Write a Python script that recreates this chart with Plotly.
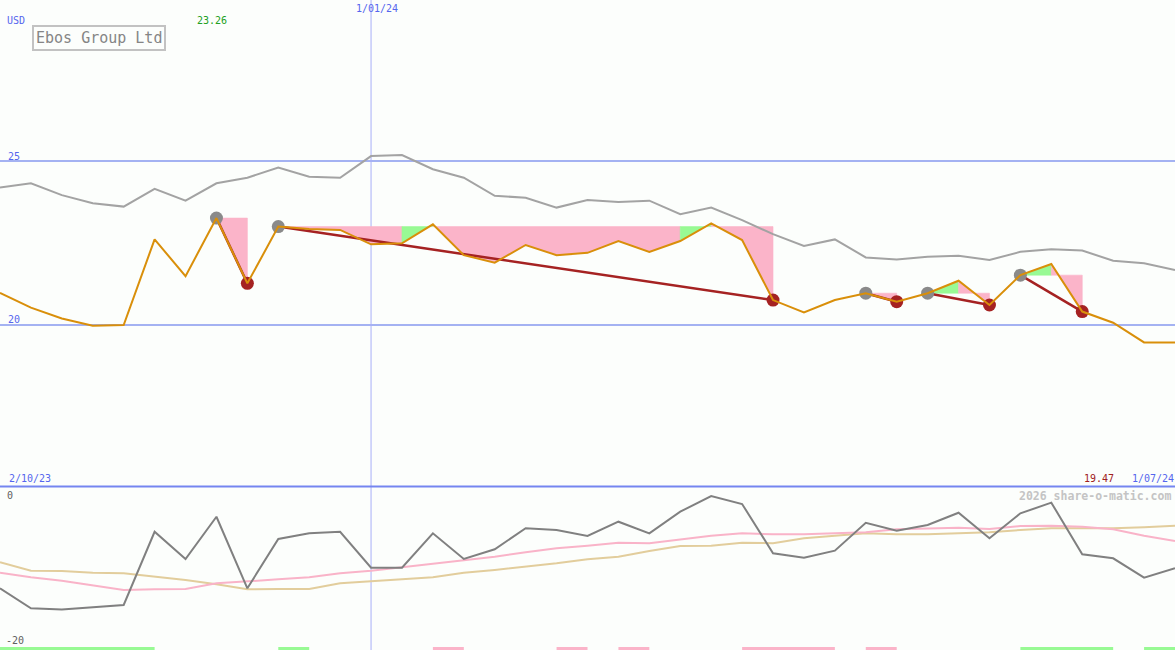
import plotly.graph_objects as go

# ---------------- data ----------------
idx = list(range(39))

price = [20.98, 20.53, 20.20, 19.98, 20.00, 22.61, 21.49, 23.26, 21.27, 23.00,
         22.93, 22.90, 22.46, 22.49, 23.07, 22.13, 21.90, 22.44, 22.13, 22.20,
         22.56, 22.23, 22.56, 23.10, 22.59, 20.76, 20.38, 20.76, 20.97, 20.71,
         20.97, 21.35, 20.61, 21.52, 21.86, 20.41, 20.07, 19.47, 19.47]

upper_band = [24.19, 24.32, 23.96, 23.71, 23.61, 24.15, 23.79, 24.32, 24.49, 24.80,
              24.52, 24.49, 25.15, 25.18, 24.75, 24.49, 23.94, 23.88, 23.58, 23.81,
              23.75, 23.79, 23.38, 23.58, 23.20, 22.77, 22.41, 22.61, 22.06, 22.00,
              22.08, 22.11, 21.98, 22.23, 22.31, 22.27, 21.96, 21.88, 21.68]

# peak -> trough drawdown episodes (indices)
peaks = [7, 9, 28, 30, 33]
troughs = [8, 25, 29, 32, 35]

osc_main = [-12.57, -15.10, -15.25, -15.00, -14.68, -5.41, -8.86, -3.51, -12.57, -6.33,
            -5.61, -5.41, -9.96, -9.96, -5.61, -8.86, -7.63, -4.97, -5.19, -5.95,
            -4.14, -5.61, -2.87, -0.89, -1.90, -8.14, -8.70, -7.81, -4.27, -5.28,
            -4.56, -3.00, -6.24, -3.08, -1.73, -8.27, -8.77, -11.23, -10.04]

osc_pink = [-10.59, -11.18, -11.61, -12.15, -12.78, -12.70, -12.66, -11.94, -11.73, -11.43,
            -11.18, -10.67, -10.34, -9.91, -9.49, -9.08, -8.57, -8.01, -7.51, -7.18,
            -6.80, -6.87, -6.37, -5.91, -5.61, -5.73, -5.73, -5.61, -5.48, -5.10,
            -4.97, -4.90, -5.06, -4.68, -4.65, -4.77, -5.10, -5.91, -6.58]

osc_tan = [-9.28, -10.34, -10.38, -10.59, -10.67, -11.10, -11.52, -12.06, -12.70, -12.66,
           -12.66, -11.94, -11.73, -11.43, -11.18, -10.59, -10.25, -9.84, -9.41, -8.90,
           -8.57, -7.85, -7.22, -7.18, -6.80, -6.87, -6.24, -5.91, -5.61, -5.73,
           -5.73, -5.61, -5.48, -5.19, -4.97, -4.97, -4.97, -4.85, -4.65]

# signal bars at the bottom: (start index, end index, kind)
bar_start = [0, 9, 14, 18, 20, 24, 28, 33, 37]
bar_end = [5, 10, 15, 19, 21, 27, 29, 36, 38]
bar_kind = ["up", "up", "down", "down", "down", "down", "down", "up", "up"]

title_text = "Ebos Group Ltd"
currency = "USD"
high_label = "23.26"
last_label = "19.47"
start_label = "2/10/23"
mid_label = "1/01/24"
end_label = "1/07/24"
mid_index = 12
grid_levels = [25, 20]

# ---------------- styles ----------------
BG = "#FCFEFC"
ORANGE = "#D98F0A"
GREY_LINE = "#A3A3A3"
PINK = "#FBB4C9"
GREEN = "#98FA94"
DARKRED = "#A52222"
MARKER_GREY = "#8A8A8A"
GRID = "#A4B2F2"
BLUE_TXT = "#5566EE"
MONO = "DejaVu Sans Mono"

fig = go.Figure()

# drawdown fills: one polygon per run of same-coloured segments
for pk, tr in zip(peaks, troughs):
    level = price[pk]
    cols = [GREEN if price[i + 1] > level else PINK for i in range(pk, tr)]
    runs = []
    s = pk
    for k in range(1, len(cols) + 1):
        if k == len(cols) or cols[k] != cols[k - 1]:
            runs.append((s, pk + k, cols[k - 1]))
            s = pk + k
    for a, b, col in runs:
        xs = list(range(a, b + 1))
        px_ = xs + xs[::-1] + [a]
        py_ = [level] * len(xs) + [price[i] for i in xs[::-1]] + [level]
        fig.add_trace(go.Scatter(
            x=px_, y=py_, mode="lines", fill="toself", fillcolor=col,
            line=dict(width=0.6, color=col), hoverinfo="skip", showlegend=False))

# upper band line
fig.add_trace(go.Scatter(x=idx, y=upper_band, mode="lines",
                         line=dict(color=GREY_LINE, width=2), showlegend=False))

# trend lines peak -> trough
for pk, tr in zip(peaks, troughs):
    fig.add_trace(go.Scatter(x=[pk, tr], y=[price[pk], price[tr]], mode="lines",
                             line=dict(color=DARKRED, width=2.5), showlegend=False))

# markers
fig.add_trace(go.Scatter(x=peaks, y=[price[p] for p in peaks], mode="markers",
                         marker=dict(color=MARKER_GREY, size=13), showlegend=False))
fig.add_trace(go.Scatter(x=troughs, y=[price[t] for t in troughs], mode="markers",
                         marker=dict(color=DARKRED, size=13), showlegend=False))

# price line
fig.add_trace(go.Scatter(x=idx, y=price, mode="lines",
                         line=dict(color=ORANGE, width=2), showlegend=False))

# lower panel
fig.add_trace(go.Scatter(x=idx, y=osc_tan, mode="lines", yaxis="y2",
                         line=dict(color="#E2CD9C", width=2), showlegend=False))
fig.add_trace(go.Scatter(x=idx, y=osc_pink, mode="lines", yaxis="y2",
                         line=dict(color="#F9B3C8", width=2), showlegend=False))
fig.add_trace(go.Scatter(x=idx, y=osc_main, mode="lines", yaxis="y2",
                         line=dict(color="#808080", width=2), showlegend=False))

for s, e, k in zip(bar_start, bar_end, bar_kind):
    fig.add_trace(go.Scatter(x=[s, e], y=[-20.19, -20.19], mode="lines", yaxis="y2",
                             line=dict(color=GREEN if k == "up" else PINK, width=3),
                             showlegend=False))

# ---------------- layout ----------------
W, H = 1175, 650
split = 163 / H

shapes = []
for g in grid_levels:
    shapes.append(dict(type="line", xref="paper", yref="y", x0=0, x1=1, y0=g, y1=g,
                       line=dict(color=GRID, width=2), layer="below"))
shapes.append(dict(type="line", xref="x", yref="paper", x0=mid_index, x1=mid_index,
                   y0=0, y1=1, line=dict(color="#A8B0F8", width=1), layer="below"))
shapes.append(dict(type="line", xref="paper", yref="paper", x0=0, x1=1,
                   y0=split + 0.5 / H, y1=split + 0.5 / H,
                   line=dict(color="#7585F0", width=2), layer="above"))


def px(x):
    return x / W


def py(y):
    return 1 - y / H


anns = [
    dict(text=currency, x=px(5), y=py(20), xanchor="left", yanchor="middle",
         font=dict(family=MONO, size=10, color=BLUE_TXT)),
    dict(text=high_label, x=px(195), y=py(20), xanchor="left", yanchor="middle",
         font=dict(family=MONO, size=10, color="#22A022")),
    dict(text=mid_label, x=px(354), y=py(9), xanchor="left", yanchor="middle",
         font=dict(family=MONO, size=10, color=BLUE_TXT)),
    dict(text=str(grid_levels[0]), x=px(6), y=py(156.5), xanchor="left", yanchor="middle",
         font=dict(family=MONO, size=10, color=BLUE_TXT)),
    dict(text=str(grid_levels[1]), x=px(6), y=py(319.5), xanchor="left", yanchor="middle",
         font=dict(family=MONO, size=10, color=BLUE_TXT)),
    dict(text=start_label, x=px(7), y=py(478.5), xanchor="left", yanchor="middle",
         font=dict(family=MONO, size=10, color=BLUE_TXT)),
    dict(text=last_label, x=px(1082), y=py(478.5), xanchor="left", yanchor="middle",
         font=dict(family=MONO, size=10, color="#A02020")),
    dict(text=end_label, x=px(1130), y=py(478.5), xanchor="left", yanchor="middle",
         font=dict(family=MONO, size=10, color=BLUE_TXT)),
    dict(text="<b>2026 share-o-matic.com</b>", x=px(1173), y=py(496), xanchor="right",
         yanchor="middle", font=dict(family=MONO, size=11.5, color="#C4C4C4")),
    dict(text="0", x=px(5), y=py(495), xanchor="left", yanchor="middle",
         font=dict(family=MONO, size=10, color="#606060")),
    dict(text="-20", x=px(4), y=py(640), xanchor="left", yanchor="middle",
         font=dict(family=MONO, size=10, color="#606060")),
    dict(text=title_text, x=px(32), y=py(24.5), xanchor="left", yanchor="top",
         font=dict(family=MONO, size=15, color="#858585"),
         bordercolor="#C2C2C2", borderwidth=2, borderpad=2, bgcolor=BG),
]
for a in anns:
    a.update(xref="paper", yref="paper", showarrow=False)

fig.update_layout(
    width=W, height=H,
    margin=dict(l=0, r=0, t=0, b=0),
    paper_bgcolor=BG, plot_bgcolor=BG,
    showlegend=False,
    hovermode=False,
    xaxis=dict(range=[0, 38], visible=False, fixedrange=True, anchor="y2"),
    yaxis=dict(domain=[split, 1], range=[15.061, 29.909], visible=False, fixedrange=True),
    yaxis2=dict(domain=[0, split], range=[-20.38, 0.253], visible=False, fixedrange=True,
                anchor="x"),
    shapes=shapes,
    annotations=anns,
)

fig.write_html(
    "out.html",
    config=dict(displayModeBar=False),
    post_script="document.body.style.margin='0';document.body.style.padding='0';"
                "document.body.style.background='" + BG + "';"
                "document.documentElement.style.overflow='hidden';",
)
